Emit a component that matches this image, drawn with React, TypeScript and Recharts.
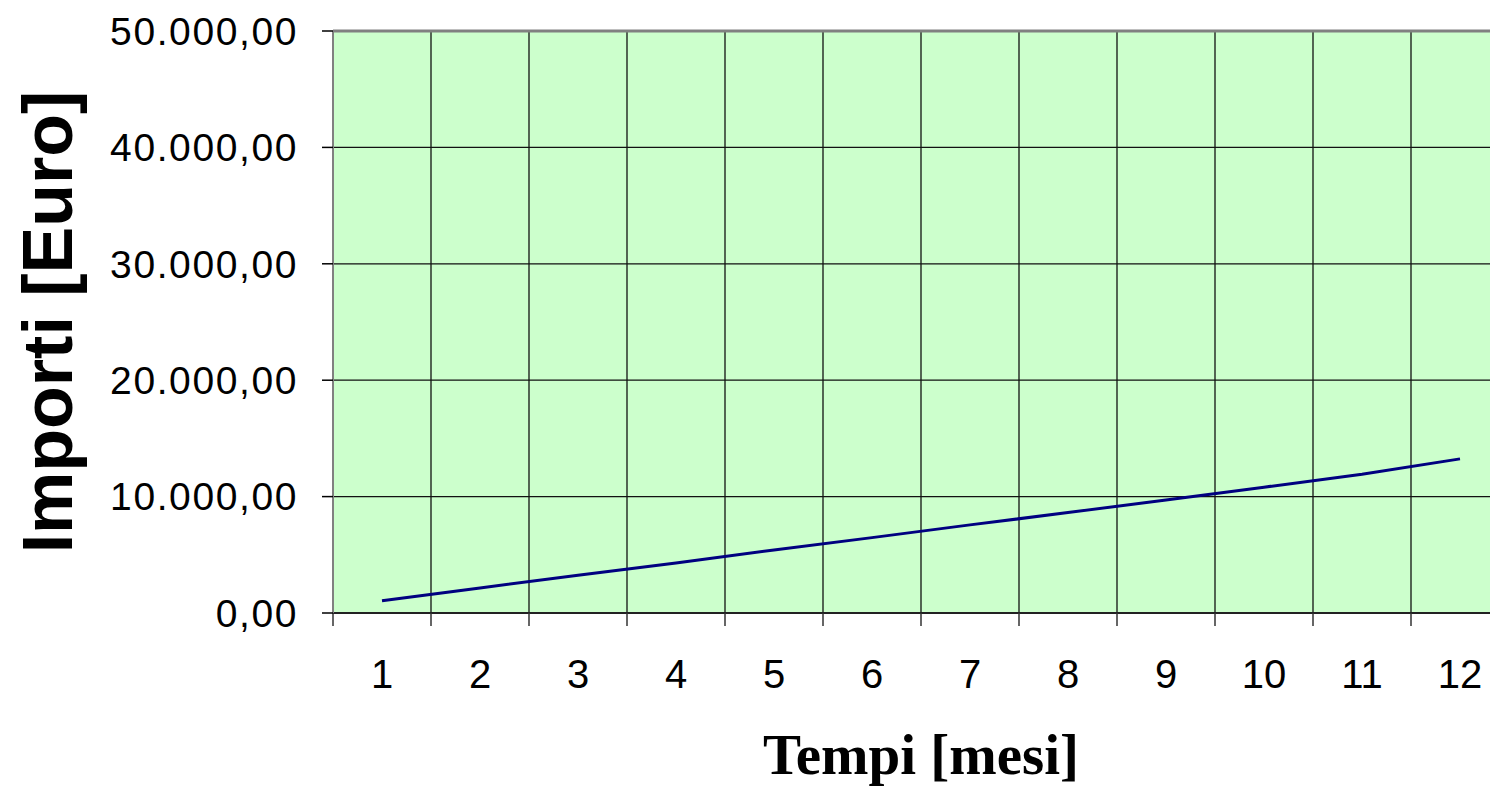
import { CartesianGrid, Line, LineChart, ReferenceLine, XAxis, YAxis } from "recharts";

const mesi = [1, 2, 3, 4, 5, 6, 7, 8, 9, 10, 11, 12];
const importi = [1050, 2150, 3240, 4300, 5420, 6475, 7570, 8625, 9716, 10808, 11926, 13242];
const yTicks = [0, 10000, 20000, 30000, 40000, 50000];
const boundaries = [0.5, 1.5, 2.5, 3.5, 4.5, 5.5, 6.5, 7.5, 8.5, 9.5, 10.5, 11.5, 12.5];

const data = mesi.map((m, i) => ({ mese: m, importo: importi[i] }));

// 50000 -> "50.000,00"
function euro(v: number) {
  const s = String(Math.round(v));
  return s.replace(/\B(?=(\d{3})+(?!\d))/g, ".") + ",00";
}

const TICK_FONT = "'Liberation Sans', Arial, sans-serif";

export default function App() {
  return (
    <div
      style={{
        position: "absolute",
        left: 0,
        top: 0,
        width: 1490,
        height: 790,
        overflow: "hidden",
        background: "#fff",
      }}
    >
      <LineChart width={1520} height={790} data={data} margin={{ top: 31, right: 11, bottom: 0, left: 0 }}>
        <CartesianGrid xAxisId="grid" fill="#CCFFCC" stroke="#111" strokeWidth={1.3} />
        <XAxis
          xAxisId="grid"
          type="number"
          dataKey="mese"
          domain={[0.5, 12.5]}
          ticks={boundaries}
          interval={0}
          allowDataOverflow
          height={14}
          tickSize={13}
          tickFormatter={() => ""}
          axisLine={{ stroke: "#222", strokeWidth: 2 }}
          tickLine={{ stroke: "#333", strokeWidth: 1.5 }}
        />
        <XAxis
          xAxisId="lab"
          type="number"
          dataKey="mese"
          domain={[0.5, 12.5]}
          ticks={mesi}
          interval={0}
          allowDataOverflow
          height={163}
          tickSize={0}
          tickMargin={33}
          axisLine={false}
          tickLine={false}
          tick={{ fill: "#000", fontSize: 40, fontFamily: TICK_FONT }}
          label={(p: any) => {
            const vb = p.viewBox || {};
            return (
              <text
                x={vb.x + vb.width / 2}
                y={774}
                textAnchor="middle"
                fontFamily="'Liberation Serif', 'Times New Roman', serif"
                fontWeight="bold"
                fontSize={57}
                fill="#000"
              >
                Tempi [mesi]
              </text>
            );
          }}
        />
        <YAxis
          type="number"
          domain={[0, 50000]}
          ticks={yTicks}
          interval={0}
          width={333}
          tickSize={11}
          tickMargin={24}
          tickFormatter={euro}
          axisLine={{ stroke: "#808080", strokeWidth: 2 }}
          tickLine={{ stroke: "#000", strokeWidth: 1.5 }}
          tick={{ fill: "#000", fontSize: 39, fontFamily: TICK_FONT, letterSpacing: 1.6 }}
          label={(p: any) => {
            const vb = p.viewBox || {};
            const cy = vb.y + vb.height / 2;
            return (
              <text
                x={0}
                y={0}
                transform={`translate(72, ${cy}) rotate(-90)`}
                textAnchor="middle"
                fontFamily={TICK_FONT}
                fontWeight="bold"
                fontSize={70}
                fill="#000"
              >
                Importi [Euro]
              </text>
            );
          }}
        />
        <ReferenceLine xAxisId="lab" y={50000} stroke="#808080" strokeWidth={3} />
        <Line
          xAxisId="lab"
          type="linear"
          dataKey="importo"
          stroke="#000080"
          strokeWidth={3}
          dot={false}
          isAnimationActive={false}
        />
      </LineChart>
    </div>
  );
}
